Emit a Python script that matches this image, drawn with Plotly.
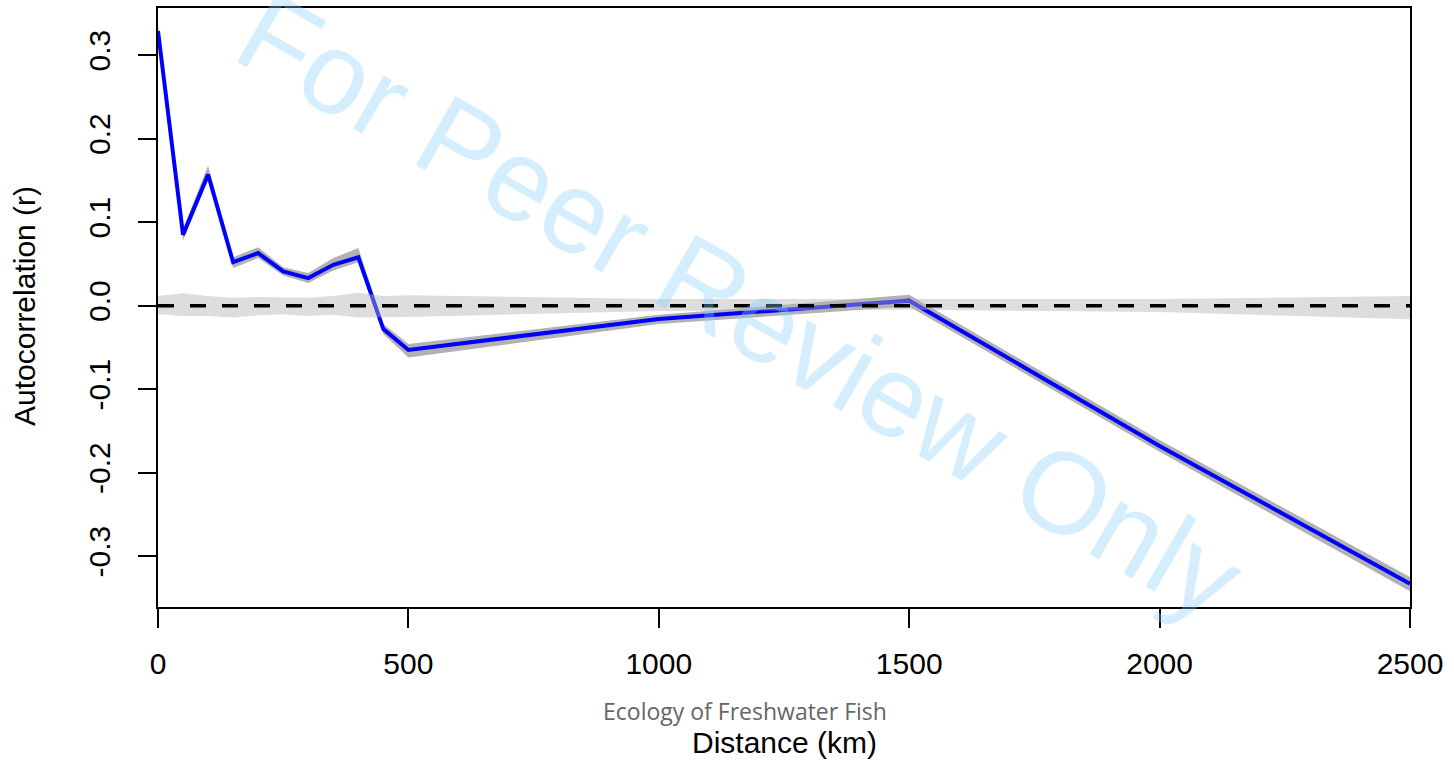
import plotly.graph_objects as go

# ---- data ----
distance_km = [0, 50, 100, 150, 200, 250, 300, 350, 400, 450, 500, 1000, 1500, 2000, 2500]
autocorr_r = [0.329, 0.085, 0.157, 0.052, 0.063, 0.041, 0.033, 0.049, 0.058,
              -0.028, -0.053, -0.016, 0.006, -0.168, -0.333]
ci_upper = [0.335, 0.092, 0.168, 0.058, 0.070, 0.046, 0.039, 0.057, 0.069,
            -0.022, -0.046, -0.011, 0.013, -0.161, -0.325]
ci_lower = [0.323, 0.078, 0.150, 0.045, 0.057, 0.036, 0.027, 0.042, 0.052,
            -0.034, -0.062, -0.022, -0.001, -0.175, -0.342]
null_upper = [0.0116, 0.0148, 0.0116, 0.0095, 0.0104, 0.0095, 0.0095, 0.0116, 0.0155,
              0.0116, 0.0124, 0.0080, 0.0076, 0.0080, 0.0116]
null_lower = [-0.0103, -0.0123, -0.0123, -0.0143, -0.0115, -0.0103, -0.0123, -0.0110, -0.0143,
              -0.0143, -0.0135, -0.0065, -0.0050, -0.0075, -0.0162]
x_ticks = [0, 500, 1000, 1500, 2000, 2500]
y_ticks = [-0.3, -0.2, -0.1, 0.0, 0.1, 0.2, 0.3]
y_tick_labels = ["-0.3", "-0.2", "-0.1", "0.0", "0.1", "0.2", "0.3"]

FONT = "Liberation Sans, Arial, Helvetica, sans-serif"

fig = go.Figure()

# confidence band around observed correlogram
fig.add_trace(go.Scatter(x=distance_km, y=ci_upper, mode="lines", line=dict(width=0),
                         hoverinfo="skip", showlegend=False))
fig.add_trace(go.Scatter(x=distance_km, y=ci_lower, mode="lines", line=dict(width=0),
                         fill="tonexty", fillcolor="rgb(178,178,178)",
                         hoverinfo="skip", showlegend=False))
# observed correlogram
fig.add_trace(go.Scatter(x=distance_km, y=autocorr_r, mode="lines",
                         line=dict(color="#0000FF", width=4), showlegend=False))
# null envelope (semi-transparent, drawn on top)
fig.add_trace(go.Scatter(x=distance_km, y=null_upper, mode="lines", line=dict(width=0),
                         hoverinfo="skip", showlegend=False))
fig.add_trace(go.Scatter(x=distance_km, y=null_lower, mode="lines", line=dict(width=0),
                         fill="tonexty", fillcolor="rgba(180,180,180,0.45)",
                         hoverinfo="skip", showlegend=False))
# zero line
fig.add_trace(go.Scatter(x=[distance_km[0], distance_km[-1]], y=[0, 0], mode="lines",
                         line=dict(color="black", width=3.5, dash="16px,16px"),
                         hoverinfo="skip", showlegend=False))

L, R, T, B = 158, 44, 6, 154
W, H = 1454, 761
pw, ph = W - L - R, H - T - B


def px(xp):
    return (xp - L) / pw


def py(yp):
    return (H - B - yp) / ph


fig.update_layout(
    width=W, height=H,
    margin=dict(l=L, r=R, t=T, b=B, pad=0),
    plot_bgcolor="white", paper_bgcolor="white",
    font=dict(family=FONT, color="black", size=30),
    xaxis=dict(range=[0, 2500], tickvals=x_ticks, ticks="outside", ticklen=19,
               tickwidth=1.5, tickcolor="black", showline=True, linecolor="black",
               linewidth=2, mirror=True, showgrid=False, zeroline=False,
               ticklabelstandoff=10,
               tickfont=dict(size=30, family=FONT)),
    yaxis=dict(range=[-0.3609, 0.3565], tickvals=y_ticks, ticktext=y_tick_labels,
               ticks="outside", ticklen=18, tickwidth=1.5, tickcolor="black",
               showline=True, linecolor="black", linewidth=2, mirror=True,
               showgrid=False, zeroline=False, tickangle=-90,
               ticklabelstandoff=16,
               tickfont=dict(size=30, family=FONT)),
    annotations=[
        dict(text="For Peer Review Only", xref="paper", yref="paper",
             x=px(740), y=py(305), xanchor="center", yanchor="middle",
             showarrow=False, textangle=30,
             font=dict(size=116, family=FONT, color="rgba(135,206,250,0.35)")),
        dict(text="Ecology of Freshwater Fish", xref="paper", yref="paper",
             x=px(745), y=py(711), xanchor="center", yanchor="middle", showarrow=False,
             font=dict(size=23, family="Liberation Sans Narrow, Open Sans, sans-serif",
                       color="#666666")),
        dict(text="Distance (km)", xref="paper", yref="paper",
             x=px(784), y=py(743), xanchor="center", yanchor="middle", showarrow=False,
             font=dict(size=30, family=FONT, color="black")),
        dict(text="Autocorrelation (r)", xref="paper", yref="paper",
             x=px(24), y=py(305), xanchor="center", yanchor="middle", showarrow=False,
             textangle=-90, font=dict(size=30, family=FONT, color="black")),
    ],
)

fig.write_html("out.html")
